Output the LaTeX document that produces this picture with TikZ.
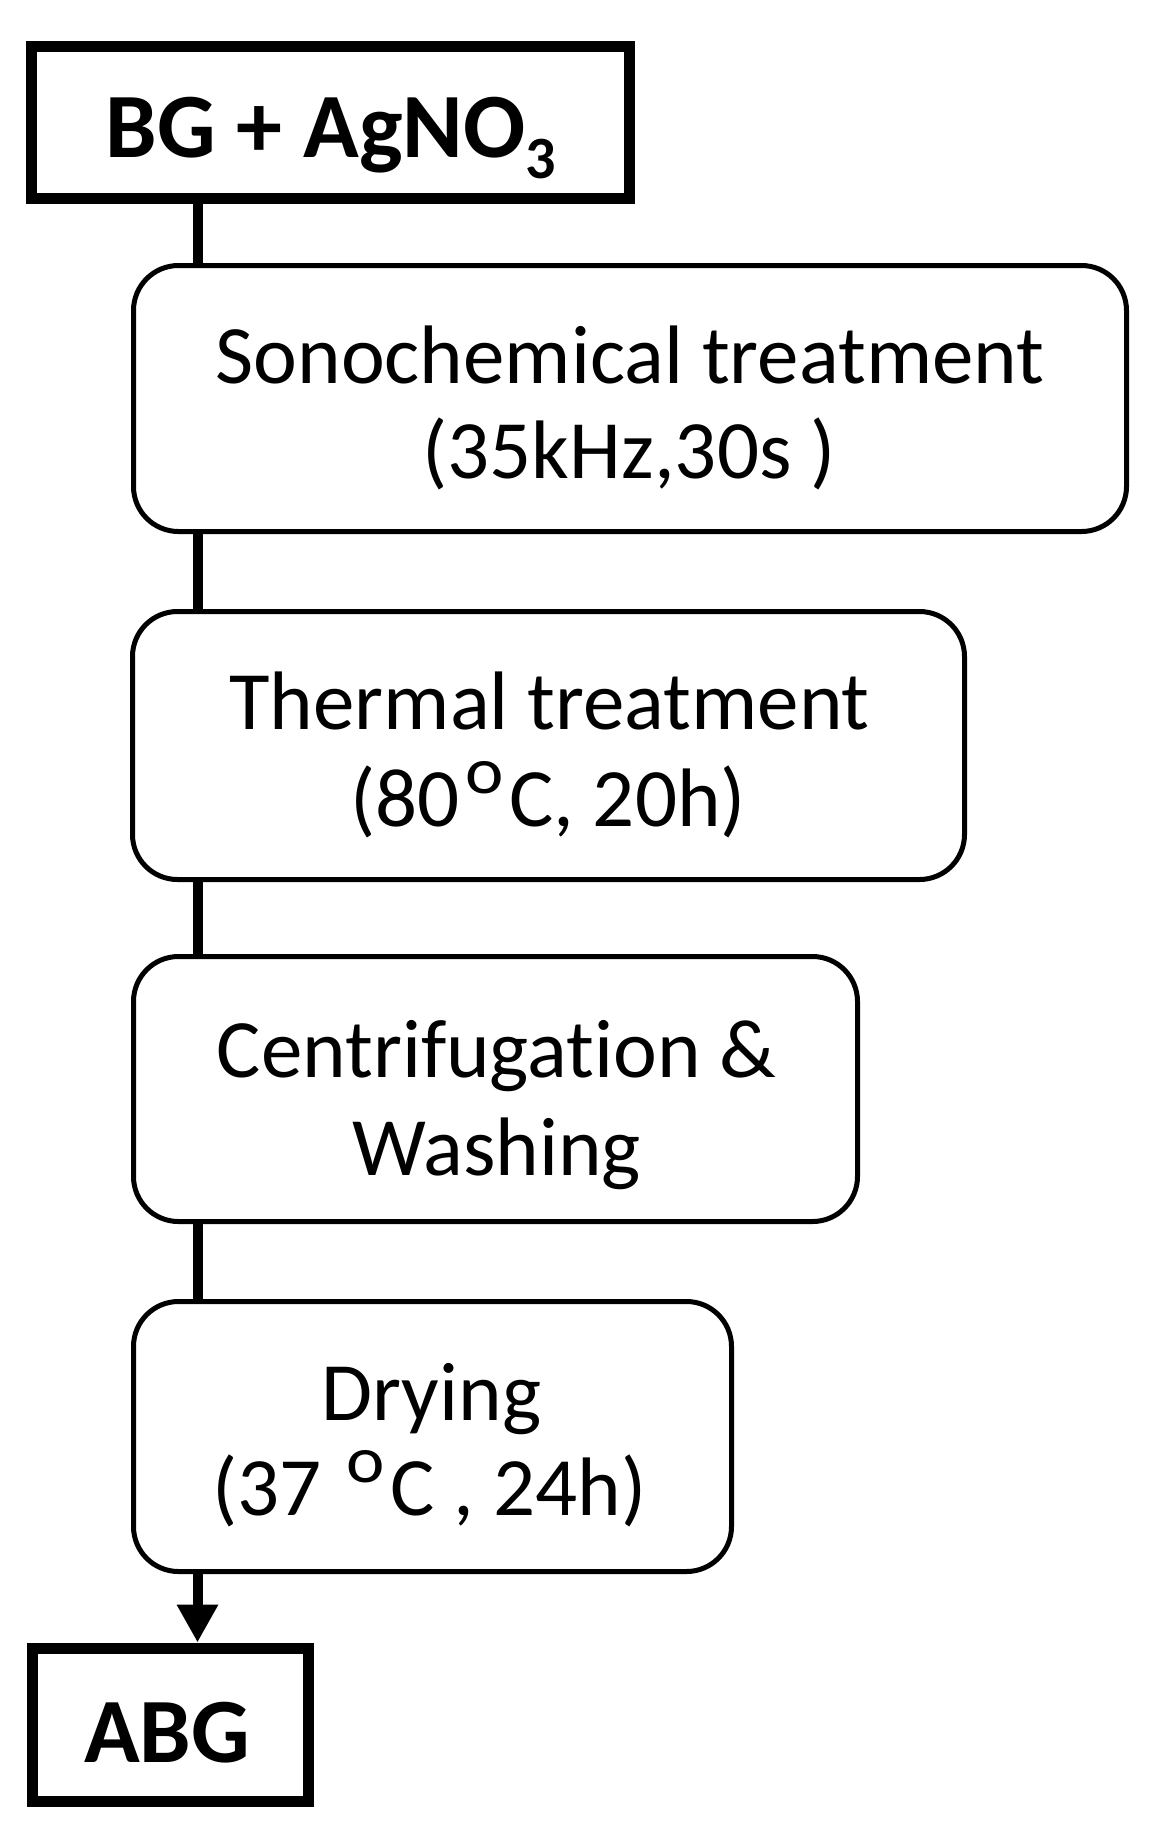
\documentclass[tikz,border=0pt]{standalone}
\usepackage{fontspec}
\setmainfont[Ligatures=NoCommon]{Carlito}
\usetikzlibrary{arrows.meta}
\newcommand\degring{\kern3pt\raisebox{16.3pt}{\fontsize{33}{33}\selectfont\scalebox{1.1}[1]{o}}\kern3pt}
\newcommand\subthree{\raisebox{-10.5pt}{\fontsize{30}{30}\selectfont 3}}
\begin{document}
\begin{tikzpicture}[x=0.5pt,y=-0.5pt,
  thickbox/.style={draw, line width=5.5pt, inner sep=0pt, fill=white},
  stepbox/.style={draw, line width=2.5pt, rounded corners=22.5pt, inner sep=0pt, fill=white},
  spine/.style={line width=5pt},
  lbl/.style={anchor=base, inner sep=0pt, font=\fontsize{41.5}{50}\selectfont},
  blbl/.style={anchor=base, inner sep=0pt, font=\fontsize{46}{55}\selectfont\bfseries}]
\fill[white] (0,0) rectangle (1153,1843);
\useasboundingbox (0,0) rectangle (1153,1843);
\coordinate (sp) at (197.5,0);
% boxes
\node[thickbox, minimum width=299pt, minimum height=76pt] (bg) at (330.5,122.5) {};
\node[stepbox, minimum width=496.5pt, minimum height=133pt] (sono) at (630,398.5) {};
\node[stepbox, minimum width=416pt, minimum height=134pt] (therm) at (548.5,745.5) {};
\node[stepbox, minimum width=362pt, minimum height=132.5pt] (centr) at (495.5,1089) {};
\node[stepbox, minimum width=299pt, minimum height=135pt] (dry) at (432.5,1436.5) {};
\node[thickbox, minimum width=138pt, minimum height=76.5pt] (abg) at (170,1724.5) {};
% texts
\node[blbl] (bgT) at (331,157) {BG + AgNO\subthree};
\node[lbl] (sonoA) at (630,383) {Sonochemical treatment};
\node[lbl] (sonoB) at (629,478) {(35kHz,30s )};
\node[lbl] (thA) at (549.5,729) {Thermal treatment};
\node[lbl] (thB) at (548,826) {(80\degring C, 20h)};
\node[lbl] (ceA) at (496.5,1077) {Centrifugation \&};
\node[lbl] (ceB) at (496.5,1175) {Washing};
\node[lbl] (drA) at (431.5,1420) {Drying};
\node[lbl] (drB) at (429.5,1515) {(37 \degring C , 24h)};
\node[blbl] (abgT) at (167,1762) {ABG};
% connectors
\draw[spine] (bg.south -| sp) -- (sono.north -| sp);
\draw[spine] (sono.south -| sp) -- (therm.north -| sp);
\draw[spine] (therm.south -| sp) -- (centr.north -| sp);
\draw[spine] (centr.south -| sp) -- (dry.north -| sp);
\draw[spine, -{Triangle[width=19.5pt,length=19pt]}] (dry.south -| sp) -- (abg.north -| sp);
\end{tikzpicture}
\end{document}
